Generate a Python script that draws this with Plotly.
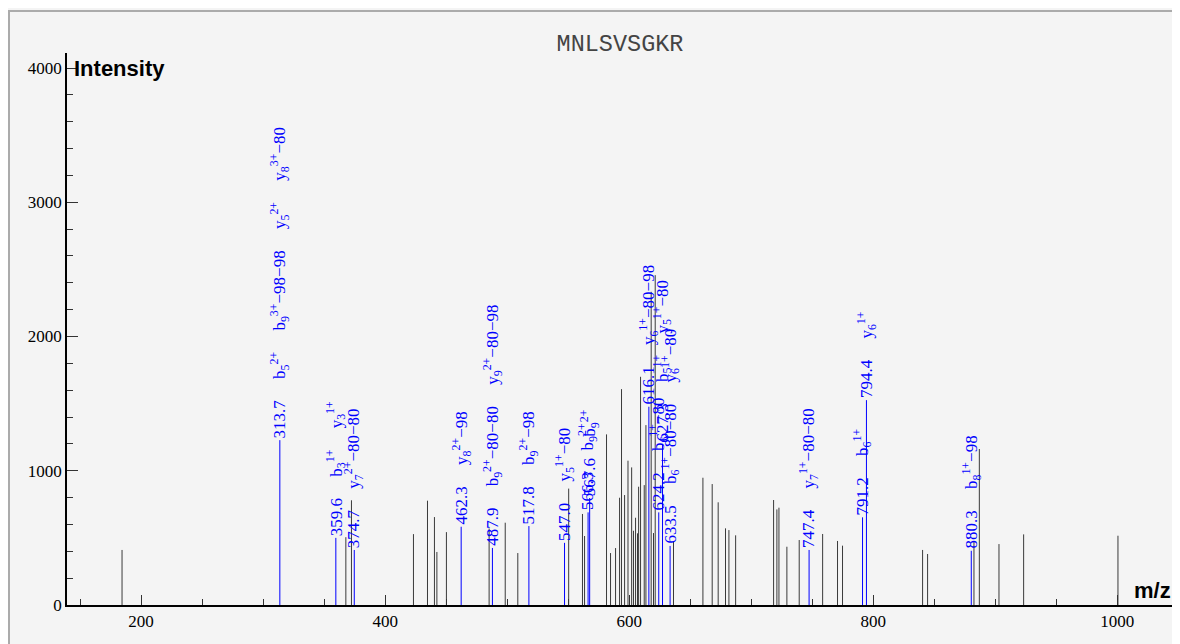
import plotly.graph_objects as go

TITLE = "MNLSVSGKR"

# unannotated peaks (m/z, intensity)
GRAY_MZ = [184.4, 367.8, 372.4, 423.2, 434.7, 440.4, 442.4, 450.2, 485.2, 498.4,
           508.7, 550.4, 561.7, 563.4, 581.4, 584.7, 588.8, 592.1, 593.7, 596.2,
           599.0, 602.0, 603.5, 605.2, 606.8, 607.7, 609.3, 612.3, 613.7, 618.0,
           619.9, 621.3, 636.3, 660.4, 668.0, 672.9, 678.9, 681.7, 687.2, 718.3,
           721.0, 722.7, 729.2, 739.3, 758.5, 770.7, 774.8, 840.4, 844.5, 882.5,
           886.9, 903.0, 923.2, 1000.5]
GRAY_INT = [410, 505, 780, 528, 777, 655, 395, 543, 570, 613,
            387, 867, 678, 514, 1271, 387, 424, 799, 1608, 819,
            1075, 1025, 553, 650, 534, 881, 1700, 893, 1340, 2333,
            536, 2457, 476, 948, 901, 765, 571, 558, 519, 782,
            712, 725, 434, 484, 529, 477, 442, 410, 380, 470,
            1162, 454, 526, 516]

# annotated peaks
ION_MZ = [313.7, 359.6, 374.7, 462.3, 487.9, 517.8, 547.0, 566.3, 567.6,
          616.1, 624.2, 627.3, 633.5, 747.4, 791.2, 794.4, 880.3]
ION_INT = [1228, 500, 410, 583, 425, 588, 463, 690, 797,
           1477, 690, 1200, 440, 410, 653, 1526, 404]
ION_LABELS = [
    ["313.7", "b<sub>5</sub><sup>2+</sup>", "b<sub>9</sub><sup>3+</sup>−98−98",
     "y<sub>5</sub><sup>2+</sup>", "y<sub>8</sub><sup>3+</sup>−80"],
    ["359.6", "b<sub>3</sub><sup>1+</sup>", "y<sub>3</sub><sup>1+</sup>"],
    ["374.7", "y<sub>7</sub><sup>2+</sup>−80−80"],
    ["462.3", "y<sub>8</sub><sup>2+</sup>−98"],
    ["487.9", "b<sub>9</sub><sup>2+</sup>−80−80", "y<sub>9</sub><sup>2+</sup>−80−98"],
    ["517.8", "b<sub>9</sub><sup>2+</sup>−98"],
    ["547.0", "y<sub>5</sub><sup>1+</sup>−80"],
    ["566.3", "b<sub>9</sub><sup>2+</sup>"],
    ["567.6", "b<sub>9</sub><sup>2+</sup>"],
    ["616.1", "y<sub>6</sub><sup>1+</sup>−80−98"],
    ["624.2", "b<sub>6</sub><sup>1+</sup>−80"],
    ["627.3", "b<sub>5</sub><sup>1+</sup>", "y<sub>5</sub><sup>1+</sup>−80"],
    ["633.5", "b<sub>6</sub><sup>1+</sup>−80−80", "y<sub>6</sub><sup>1+</sup>−80"],
    ["747.4", "y<sub>7</sub><sup>1+</sup>−80−80"],
    ["791.2", "b<sub>6</sub><sup>1+</sup>"],
    ["794.4", "y<sub>6</sub><sup>1+</sup>"],
    ["880.3", "b<sub>8</sub><sup>1+</sup>−98"],
]

X_RANGE = [139.3, 1045.6]
Y_RANGE = [0, 4112]
GRID_LEVELS = [1000, 2000, 3000]

SERIF = "Liberation Serif, Times New Roman, serif"
SANS = "Liberation Sans, Arial, sans-serif"
MONO = "Liberation Mono, Courier New, monospace"

# figure sits at the page's default 8px body margin and runs past the window edge
W, H = 1180, 644
ML, MR, MT, MB = 59, 15, 45, 47
PW, PH = W - ML - MR, H - MT - MB


def stems(xs, ys):
    px, py = [], []
    for x, y in zip(xs, ys):
        px += [x, x, None]
        py += [0, y, None]
    return px, py


fig = go.Figure()
gx, gy = stems(GRAY_MZ, GRAY_INT)
fig.add_trace(go.Scatter(x=gx, y=gy, mode="lines", line=dict(color="#3a3a3a", width=1),
                         hoverinfo="skip", showlegend=False))
bx, by = stems(ION_MZ, ION_INT)
fig.add_trace(go.Scatter(x=bx, y=by, mode="lines", line=dict(color="#0000ff", width=1),
                         hoverinfo="skip", showlegend=False))

SEP = "\u00a0" * 5
for mz, it, labs in zip(ION_MZ, ION_INT, ION_LABELS):
    fig.add_annotation(x=mz, y=it, text=SEP.join(labs), textangle=-90,
                       xanchor="center", yanchor="bottom", showarrow=False,
                       yshift=1, borderpad=0,
                       font=dict(family=SERIF, size=17, color="#0000ff"))

for g in GRID_LEVELS:
    fig.add_hline(y=g, line=dict(color="#dddddd", width=1), layer="below")

fig.add_annotation(x=0, y=4000, xref="paper", yref="y", text="<b>Intensity</b>",
                   xanchor="left", yanchor="middle", showarrow=False, xshift=5,
                   font=dict(family=SANS, size=22, color="black"))
fig.add_annotation(x=1, y=0, xref="paper", yref="paper", text="<b>m/z</b>",
                   xanchor="right", yanchor="bottom", showarrow=False,
                   font=dict(family=SANS, size=22, color="black"))

# outer frame (paper border)
fig.add_shape(type="rect", xref="paper", yref="paper",
              x0=(1 - ML) / PW, x1=(W + 20 - ML) / PW,
              y0=-(MB + 20) / PH, y1=(PH + MT - 3) / PH,
              fillcolor="#f4f4f4", line=dict(color="#ababab", width=2), layer="below")

fig.update_layout(
    width=W, height=H, autosize=False,
    margin=dict(l=ML, r=MR, t=MT, b=MB),
    paper_bgcolor="#f4f4f4", plot_bgcolor="rgba(0,0,0,0)",
    title=dict(text=TITLE, x=0.5, xref="paper", xanchor="center",
               y=1 - 35 / H, yanchor="middle",
               font=dict(family=MONO, size=23.5, color="#444")),
    xaxis=dict(range=X_RANGE, showgrid=False, zeroline=False,
               showline=True, linecolor="black", linewidth=1.5,
               ticks="inside", ticklen=10, tickcolor="#333", tickwidth=1,
               tick0=0, dtick=200,
               minor=dict(dtick=50, tick0=0, ticks="inside", ticklen=6, tickcolor="#333", showgrid=False),
               tickfont=dict(family=SERIF, size=17, color="black")),
    yaxis=dict(range=Y_RANGE, showgrid=False, zeroline=False,
               showline=True, linecolor="black", linewidth=1.5,
               ticks="inside", ticklen=11, tickcolor="#333", tickwidth=1,
               tick0=0, dtick=1000,
               minor=dict(dtick=200, tick0=0, ticks="inside", ticklen=6, tickcolor="#333", showgrid=False),
               tickfont=dict(family=SERIF, size=17, color="black")),
)

fig.write_html("out.html", post_script="document.body.style.overflow='hidden';")
